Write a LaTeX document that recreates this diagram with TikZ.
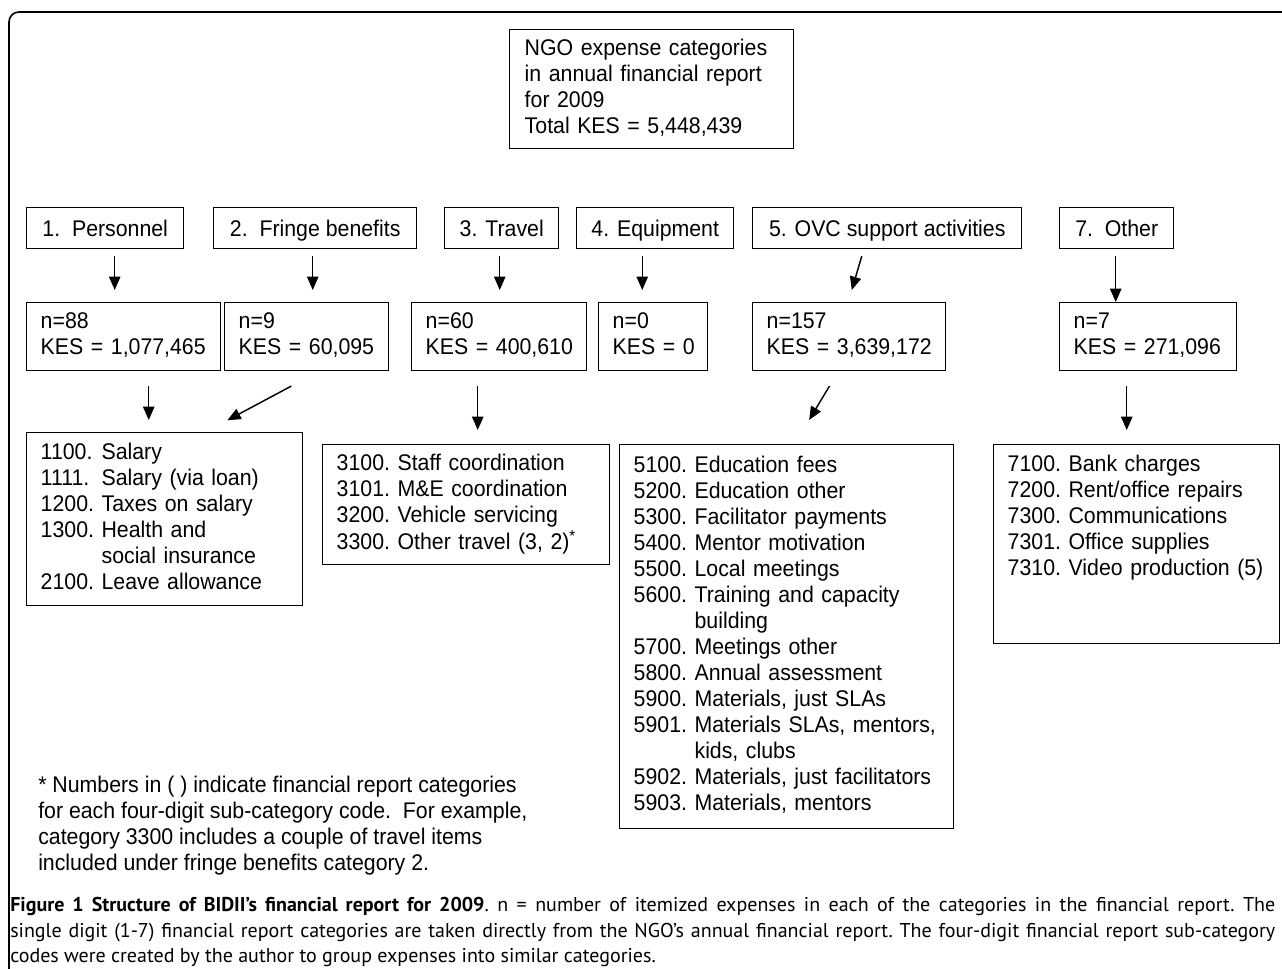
\documentclass[tikz,border=0pt]{standalone}
\usepackage{fontspec}
\setmainfont{Liberation Sans}[FakeStretch=0.94]
\newfontfamily\capfont{PT Sans}
\usetikzlibrary{arrows.meta}
\newdimen\pxu \pxu=0.75pt
\newcommand{\boxfont}{\fontsize{17}{19.5}\selectfont}

\begin{document}
\begin{tikzpicture}[x=0.75pt, y=-0.75pt,
        box/.style={draw, line width=1.1pt, anchor=north west, inner ysep=0pt, font=\boxfont},
        catbox/.style={box, minimum height=41\pxu, text height=12.5pt, text depth=0pt},
        list/.style={box, inner xsep=14\pxu, align=left,
          execute at begin node=\strut, execute at end node=\strut},
        arr/.style={-{Triangle[length=10pt, width=8.5pt]}, line width=1.1pt}
    ]
      \useasboundingbox (0,0) rectangle (1282,969);
      \draw[line width=1.2pt, rounded corners=7.5pt] (9,969) -- (9,12) -- (1282,12);

      % Total
      \node[list, inner xsep=15\pxu, text width=254\pxu, minimum height=119\pxu] (total) at (509,29)
        {NGO expense categories\\in annual financial report\\for 2009\\Total KES = 5,448,439};

      % Report categories
      \node[catbox, minimum width=157\pxu] (personnel) at (26,207) {1.\ \ Personnel};
      \node[catbox, minimum width=203\pxu] (fringe) at (213,207) {2.\ \ Fringe benefits};
      \node[catbox, minimum width=114\pxu] (travel) at (444,207) {3. Travel};
      \node[catbox, minimum width=157\pxu] (equip) at (576,207) {4. Equipment};
      \node[catbox, minimum width=269\pxu] (ovc) at (752,207) {5. OVC support activities};
      \node[catbox, minimum width=114\pxu] (other) at (1059,207) {7.\ \ Other};

      % Counts and amounts
      \node[list, text width=166\pxu, minimum height=68\pxu] (nPers) at (26,302) {n=88\\KES~=~1,077,465};
      \node[list, text width=136\pxu, minimum height=68\pxu] (nFringe) at (224,302) {n=9\\KES~=~60,095};
      \node[list, text width=147\pxu, minimum height=68\pxu] (nTravel) at (411,302) {n=60\\KES~=~400,610};
      \node[list, text width=81\pxu, minimum height=68\pxu] (nEquip) at (598,302) {n=0\\KES~=~0};
      \node[list, text width=165\pxu, minimum height=68\pxu] (nOvc) at (752,302) {n=157\\KES~=~3,639,172};
      \node[list, text width=149\pxu, minimum height=68\pxu] (nOther) at (1059,302) {n=7\\KES~=~271,096};

      % Sub-category codes
      \node[list, text width=248\pxu, minimum height=173\pxu] (subPers) at (26,432)
        {\begin{tabular}{@{}l@{\ }l@{}}
          1100. & Salary\\
          1111. & Salary (via loan)\\
          1200. & Taxes on salary\\
          1300. & Health and\\
                & social insurance\\
          2100. & Leave allowance
        \end{tabular}};
      \node[list, text width=259\pxu, minimum height=120\pxu] (subTravel) at (322,444)
        {\begin{tabular}{@{}l@{\ }l@{}}
          3100. & Staff coordination\\
          3101. & M\&E coordination\\
          3200. & Vehicle servicing\\
          3300. & Other travel (3, 2)\textsuperscript{*}
        \end{tabular}};
      \node[list, text width=306\pxu, minimum height=384\pxu] (subOvc) at (619,444)
        {\begin{tabular}{@{}l@{\ }l@{}}
          5100. & Education fees\\
          5200. & Education other\\
          5300. & Facilitator payments\\
          5400. & Mentor motivation\\
          5500. & Local meetings\\
          5600. & Training and capacity\\
                & building\\
          5700. & Meetings other\\
          5800. & Annual assessment\\
          5900. & Materials, just SLAs\\
          5901. & Materials SLAs, mentors,\\
                & kids, clubs\\
          5902. & Materials, just facilitators\\
          5903. & Materials, mentors
        \end{tabular}};
      \node[list, text width=258\pxu, minimum height=199\pxu] (subOther) at (993,444)
        {\begin{tabular}{@{}l@{\ }l@{}}
          7100. & Bank charges\\
          7200. & Rent/office repairs\\
          7300. & Communications\\
          7301. & Office supplies\\
          7310. & Video production (5)\\
                & \\
                &
        \end{tabular}};

      % Arrows
      \draw[arr, shorten <=7\pxu, shorten >=12\pxu] ([xshift=9.5\pxu]personnel.south) -- ([xshift=9.5\pxu]personnel.south |- nPers.north);
      \draw[arr, shorten <=7\pxu, shorten >=12\pxu] ([xshift=-2.5\pxu]fringe.south) -- ([xshift=-2.5\pxu]fringe.south |- nFringe.north);
      \draw[arr, shorten <=7\pxu, shorten >=12\pxu] ([xshift=-2\pxu]travel.south) -- ([xshift=-2\pxu]travel.south |- nTravel.north);
      \draw[arr, shorten <=7\pxu, shorten >=12\pxu] ([xshift=-13\pxu]equip.south) -- ([xshift=-13\pxu]equip.south |- nEquip.north);
      \draw[arr, shorten <=7\pxu, shorten >=12.5\pxu] ([xshift=-23.5\pxu]ovc.south) -- ([xshift=-1\pxu]nOvc.north);
      \draw[arr, shorten <=7\pxu] ([xshift=-1\pxu]other.south) -- ([xshift=-1\pxu]other.south |- nOther.north);

      \draw[arr, shorten <=15\pxu, shorten >=12\pxu] ([xshift=25\pxu]nPers.south) -- ([xshift=25\pxu]nPers.south |- subPers.north);
      \draw[arr, shorten <=31\pxu, shorten >=25\pxu] ([xshift=12\pxu]nFringe.south) -- ([xshift=40.6\pxu]subPers.north);
      \draw[arr, shorten <=15\pxu, shorten >=14\pxu] ([xshift=-21.5\pxu]nTravel.south) -- ([xshift=-21.5\pxu]nTravel.south |- subTravel.north);
      \draw[arr, shorten <=17\pxu, shorten >=28\pxu] ([xshift=-11\pxu]nOvc.south) -- ([xshift=8\pxu]subOvc.north);
      \draw[arr, shorten <=15\pxu, shorten >=14\pxu] ([xshift=-21.5\pxu]nOther.south) -- ([xshift=-21.5\pxu]nOther.south |- subOther.north);

      % Footnote and caption
      \node[anchor=north west, inner sep=0pt, align=left, font=\boxfont] (note) at (38,776)
        {* Numbers in ( ) indicate financial report categories\\
         for each four-digit sub-category code.\ \ For example,\\
         category 3300 includes a couple of travel items\\
         included under fringe benefits category 2.};
      \node[anchor=north west, inner sep=0pt, align=left, font=\capfont\fontsize{15}{19.1}\selectfont\frenchspacing] (caption) at (10,897)
        {\makebox[1265\pxu][s]{\textbf{Figure 1 Structure of BIDII’s financial report for 2009}. n = number of itemized expenses in each of the categories in the financial report. The}\\
         \makebox[1265\pxu][s]{single digit (1-7) financial report categories are taken directly from the NGO’s annual financial report. The four-digit financial report sub-category}\\
         codes were created by the author to group expenses into similar categories.};
    \end{tikzpicture}
\end{document}
